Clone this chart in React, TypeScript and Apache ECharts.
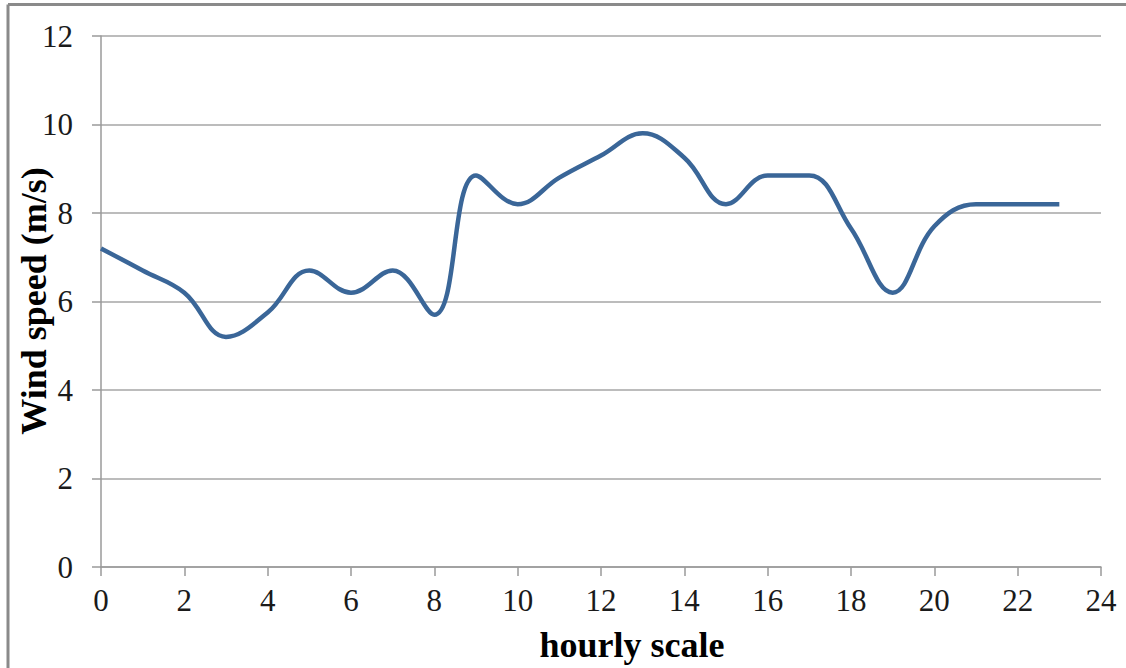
import React, { useEffect, useRef } from "react";
import * as echarts from "echarts";

const hours = [0, 1, 2, 3, 4, 5, 6, 7, 8, 9, 10, 11, 12, 13, 14, 15, 16, 17, 18, 19, 20, 21, 22, 23];
const windSpeed = [7.2, 6.7, 6.2, 5.2, 5.75, 6.7, 6.2, 6.7, 5.7, 8.85, 8.2, 8.8, 9.3, 9.8, 9.25, 8.2, 8.85, 8.85, 7.65, 6.2, 7.7, 8.2, 8.2, 8.2];
const xTitle = "hourly scale";
const yTitle = "Wind speed (m/s)";

const FONT = "'Liberation Serif', 'Times New Roman', serif";

export default function App() {
  const ref = useRef<HTMLDivElement>(null);
  useEffect(() => {
    document.body.style.margin = "0";
    const chart = echarts.init(ref.current!, undefined, { renderer: "svg" });
    chart.setOption({
      animation: false,
      backgroundColor: "#ffffff",
      grid: { left: 101, top: 36, right: 25, bottom: 101, containLabel: false },
      xAxis: {
        type: "value",
        min: 0,
        max: 24,
        interval: 2,
        axisLine: { show: true, lineStyle: { color: "#9a9a9a", width: 1.5 } },
        axisTick: { show: true, length: 9, lineStyle: { color: "#9a9a9a", width: 1.5 } },
        splitLine: { show: false },
        axisLabel: { margin: 18, fontFamily: FONT, fontSize: 31, color: "#1a1a1a" },
      },
      yAxis: {
        type: "value",
        min: 0,
        max: 12,
        interval: 2,
        axisLine: { show: true, lineStyle: { color: "#9a9a9a", width: 1.5 } },
        axisTick: { show: true, length: 9, lineStyle: { color: "#9a9a9a", width: 1.5 } },
        splitLine: { show: true, lineStyle: { color: "#a6a6a6", width: 1.5 } },
        axisLabel: { margin: 28, fontFamily: FONT, fontSize: 31, color: "#1a1a1a" },
      },
      series: [
        {
          type: "line",
          data: hours.map((h, i) => [h, windSpeed[i]]),
          smooth: 0.4,
          showSymbol: false,
          lineStyle: { color: "#3a6698", width: 4.5 },
        },
      ],
      graphic: [
        { type: "line", shape: { x1: 8, y1: 4.5, x2: 1126, y2: 4.5 }, style: { stroke: "#8a8a8a", lineWidth: 3 } },
        { type: "line", shape: { x1: 8, y1: 4.5, x2: 8, y2: 668 }, style: { stroke: "#8a8a8a", lineWidth: 3 } },
        {
          type: "text",
          x: 632,
          y: 645,
          style: { text: xTitle, font: `bold 36px ${FONT}`, fill: "#000", textAlign: "center", textVerticalAlign: "middle" },
        },
        {
          type: "text",
          x: 34,
          y: 301,
          rotation: Math.PI / 2,
          style: { text: yTitle, font: `bold 36px ${FONT}`, fill: "#000", textAlign: "center", textVerticalAlign: "middle" },
        },
      ],
    });
    return () => chart.dispose();
  }, []);
  return <div ref={ref} style={{ position: "absolute", left: 0, top: 0, width: 1126, height: 668 }} />;
}
